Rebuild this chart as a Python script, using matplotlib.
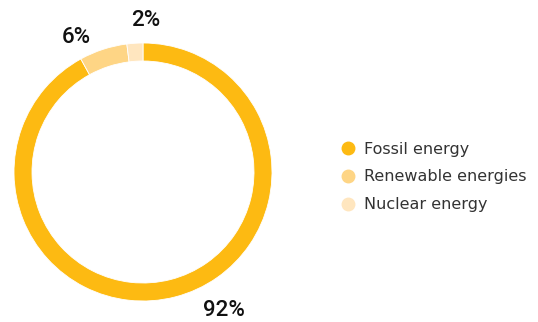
import matplotlib.pyplot as plt
from matplotlib.lines import Line2D

# data
labels = ['Fossil energy', 'Renewable energies', 'Nuclear energy']
shares = [92, 6, 2]
colors = ['#FDBA12', '#FED585', '#FFE6BF']

# where the % labels sit (pixel coords, y from bottom)
label_pos = [(224, 12), (76, 285), (146, 302)]

fig = plt.figure(figsize=(5.38, 3.22), dpi=100)
ax = fig.add_axes([0, 0, 1, 1])

ax.pie(shares, colors=colors, startangle=90, counterclock=False,
       center=(143, 150), radius=129,
       wedgeprops=dict(width=18, edgecolor='white', linewidth=0.6))
ax.set_xlim(0, 538)
ax.set_ylim(0, 322)
ax.set_aspect('equal')
ax.axis('off')

for v, (x, y) in zip(shares, label_pos):
    ax.text(x, y, f'{v}%', ha='center', va='center', fontsize=16,
            fontweight='medium', family='Roboto', color='#111111')

handles = [Line2D([], [], marker='o', linestyle='none', markersize=9,
                  markerfacecolor=c, markeredgecolor=c) for c in colors]
leg = ax.legend(handles, labels, loc='center left',
                bbox_to_anchor=(326 / 538, 1 - 177 / 322),
                frameon=False, labelspacing=0.8,
                handletextpad=0.5, handlelength=1.0,
                prop={'family': 'DejaVu Sans', 'size': 11.5})
for t in leg.get_texts():
    t.set_color('#333333')

fig.savefig('out.png', dpi=100)
